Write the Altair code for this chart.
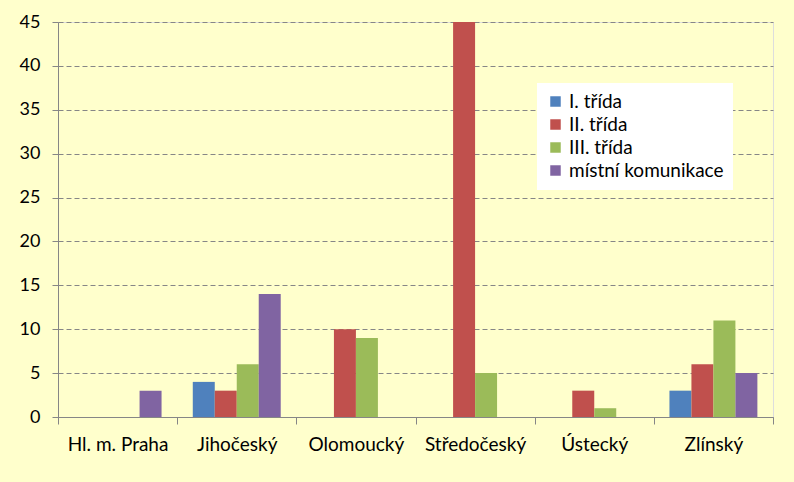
import altair as alt
import pandas as pd

regions = ["Hl. m. Praha", "Jihočeský", "Olomoucký", "Středočeský", "Ústecký", "Zlínský"]
series = ["I. třída", "II. třída", "III. třída", "místní komunikace"]
colors = ["#4F81BD", "#C0504D", "#9BBB59", "#8064A2"]
vals_I = [0, 4, 0, 0, 0, 3]
vals_II = [0, 3, 10, 45, 3, 6]
vals_III = [0, 6, 9, 5, 1, 11]
vals_mk = [3, 14, 0, 0, 0, 5]

rows = []
for s, vals in zip(series, [vals_I, vals_II, vals_III, vals_mk]):
    for r, v in zip(regions, vals):
        rows.append({"kraj": r, "serie": s, "hodnota": v})
df = pd.DataFrame(rows)

FONT = "Lato"

chart = alt.Chart(df).mark_bar().encode(
    x=alt.X("kraj:N", sort=regions, title=None,
            scale=alt.Scale(paddingInner=0, paddingOuter=0),
            axis=alt.Axis(labelAngle=0, tickBand="extent", tickSize=7,
                          labelPadding=11, labelFontSize=19, labelColor="#000000",
                          domainColor="#868686", tickColor="#868686", grid=False)),
    xOffset=alt.XOffset("serie:N", sort=series,
                        scale=alt.Scale(paddingInner=0, paddingOuter=0.71)),
    y=alt.Y("hodnota:Q", title=None,
            scale=alt.Scale(domain=[0, 45], nice=False),
            axis=alt.Axis(values=list(range(0, 46, 5)), tickSize=6, labelPadding=12,
                          labelFontSize=18, labelColor="#000000",
                          domainColor="#868686", tickColor="#868686",
                          grid=True, gridDash=[5, 3], gridColor="#868686", gridWidth=1)),
    color=alt.Color("serie:N", sort=series,
                    scale=alt.Scale(domain=series, range=colors),
                    legend=alt.Legend(title=None, orient="none", legendX=479, legendY=61,
                                      fillColor="#FFFFFF", padding=9,
                                      symbolType="square", symbolSize=110,
                                      symbolStrokeWidth=0, labelFontSize=19,
                                      labelColor="#000000", rowPadding=3)),
).properties(
    width=715, height=395,
    autosize=alt.AutoSizeParams(type="none"),
    padding={"left": 58, "top": 22, "right": 21, "bottom": 65},
    background="#FFFFCC",
).configure_view(
    fill="#CCFFFF", stroke=None
).configure(
    font=FONT
)

chart.save("out.html", embed_options={"renderer": "svg", "actions": False})
